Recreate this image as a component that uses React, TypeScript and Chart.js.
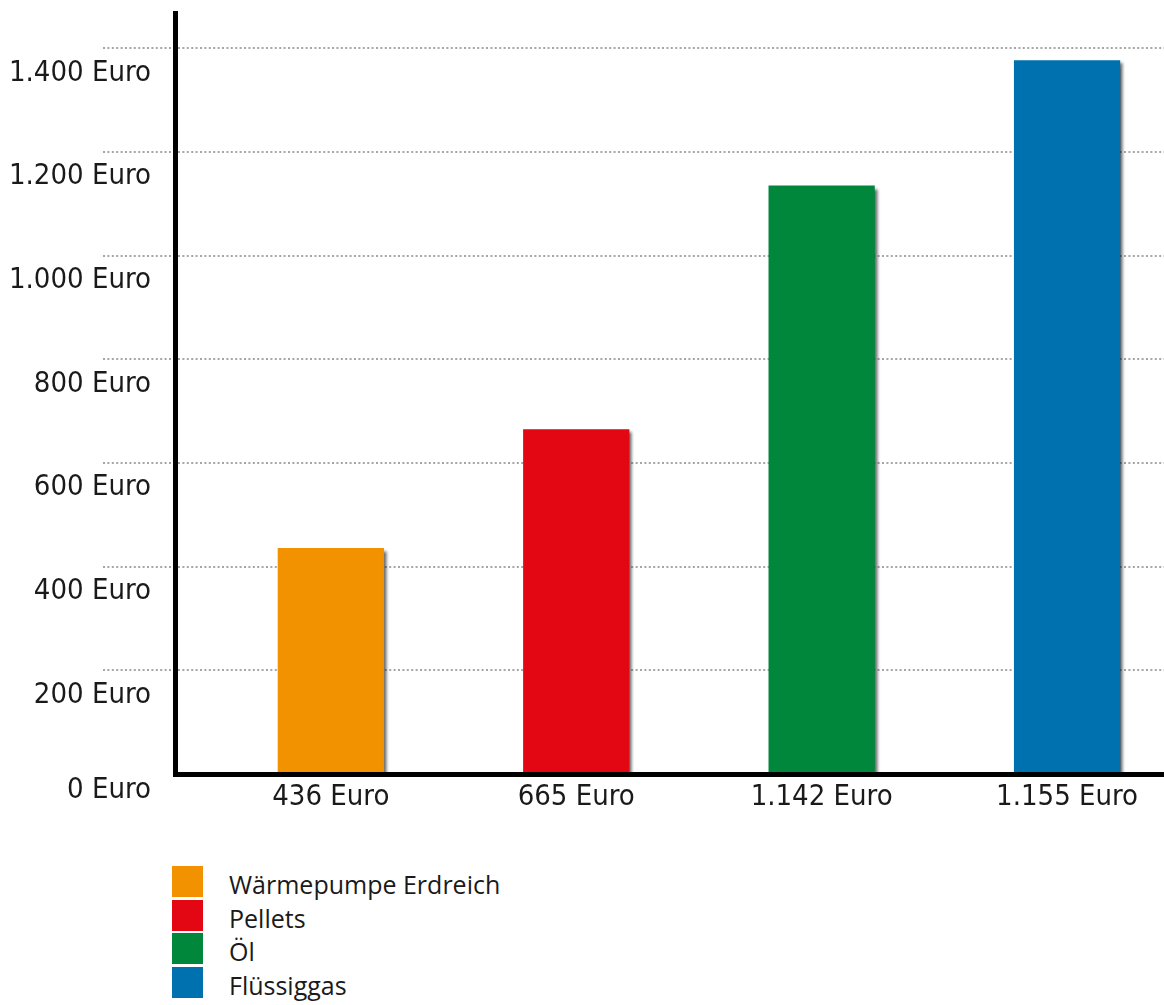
import React, { useEffect, useRef } from "react";
import { Chart, registerables } from "chart.js";

Chart.register(...registerables);

// ---- data ----
const categories = ["436 Euro", "665 Euro", "1.142 Euro", "1.155 Euro"];
const seriesNames = ["Wärmepumpe Erdreich", "Pellets", "Öl", "Flüssiggas"];
const values = [436, 665, 1135, 1377];
const colors = ["#F39200", "#E30613", "#00873C", "#0071AF"];
const yTickValues = [0, 200, 400, 600, 800, 1000, 1200, 1400];
const yTickLabels = [
  "0 Euro",
  "200 Euro",
  "400 Euro",
  "600 Euro",
  "800 Euro",
  "1.000 Euro",
  "1.200 Euro",
  "1.400 Euro",
];
const yMax = 1468;
const xMin = -0.635;
const xMax = 3.395;

const AXIS_FAMILY = '"DejaVu Sans Condensed", "Liberation Sans", sans-serif';
const AXIS_SIZE = 29;
const TEXT_COLOR = "#1a1a1a";
const GRID_COLOR = "#a6a6a6";

const shadowPlugin = {
  id: "barShadow",
  beforeDatasetsDraw(chart: any) {
    const ctx = chart.ctx;
    ctx.save();
    ctx.shadowColor = "rgba(0,0,0,0.6)";
    ctx.shadowOffsetX = 3;
    ctx.shadowOffsetY = 3;
    ctx.shadowBlur = 3;
  },
  afterDatasetsDraw(chart: any) {
    chart.ctx.restore();
  },
};

const yLabelPlugin = {
  id: "yLabels",
  afterDraw(chart: any) {
    const { ctx, chartArea } = chart;
    const y = chart.scales.y;
    ctx.save();
    ctx.font = `${AXIS_SIZE}px ${AXIS_FAMILY}`;
    ctx.fillStyle = TEXT_COLOR;
    ctx.textAlign = "right";
    ctx.textBaseline = "middle";
    yTickValues.forEach((v, i) => {
      const py = Math.min(y.getPixelForValue(v) + 25, chartArea.bottom + 16);
      ctx.fillText(yTickLabels[i], chartArea.left - 24, py);
    });
    ctx.restore();
  },
};

export default function App() {
  const canvasRef = useRef<HTMLCanvasElement | null>(null);

  useEffect(() => {
    if (!canvasRef.current) return;
    const gridColor = (c: any) =>
      c.tick && c.tick.value === 0 ? "rgba(0,0,0,0)" : GRID_COLOR;
    const chart = new Chart(canvasRef.current, {
      type: "bar",
      data: {
        datasets: [
          {
            label: "Kosten",
            data: categories.map((_, i) => ({ x: i, y: values[i] })),
            backgroundColor: colors,
            borderWidth: 0,
            barPercentage: 0.433,
            categoryPercentage: 1,
          },
        ],
      },
      options: {
        responsive: false,
        animation: false,
        devicePixelRatio: 1,
        layout: { padding: { top: 13, left: 0, right: 0, bottom: 0 } },
        plugins: {
          legend: { display: false },
          tooltip: { enabled: false },
        },
        scales: {
          x: {
            type: "linear",
            min: xMin,
            max: xMax,
            bounds: "data",
            offset: false,
            afterBuildTicks: (s: any) => {
              s.ticks = categories.map((_, i) => ({ value: i }));
            },
            afterFit: (s: any) => {
              s.height = 66;
            },
            ticks: {
              callback: (v: any) => categories[v] ?? "",
              font: { family: AXIS_FAMILY, size: AXIS_SIZE },
              color: TEXT_COLOR,
              padding: 6,
              autoSkip: false,
              maxRotation: 0,
            },
            grid: { display: false, drawTicks: false, offset: false },
            border: { display: true, color: "#000", width: 5, z: 1 },
          },
          y: {
            type: "linear",
            min: 0,
            max: yMax,
            bounds: "data",
            afterBuildTicks: (s: any) => {
              s.ticks = yTickValues.map((v) => ({ value: v }));
            },
            afterFit: (s: any) => {
              s.width = 175;
            },
            ticks: { display: false },
            grid: {
              color: gridColor,
              tickColor: gridColor,
              lineWidth: 2,
              tickWidth: 2,
              drawTicks: true,
              tickLength: 72,
              tickBorderDash: [2, 2.4],
            },
            border: {
              display: true,
              color: "#000",
              width: 5,
              dash: [2, 2.4],
            },
          },
        },
      },
      plugins: [shadowPlugin, yLabelPlugin],
    } as any);
    return () => chart.destroy();
  }, []);

  return (
    <div
      style={{
        position: "absolute",
        left: 0,
        top: 0,
        width: 1164,
        height: 1005,
        background: "#fff",
        overflow: "hidden",
      }}
    >
      <canvas
        ref={canvasRef}
        width={1164}
        height={840}
        style={{ display: "block", width: 1164, height: 840 }}
      />
      <div
        style={{
          position: "absolute",
          left: 172,
          top: 866,
          fontFamily: '"Open Sans", "Noto Sans", sans-serif',
          fontSize: 25,
          color: TEXT_COLOR,
        }}
      >
        {seriesNames.map((name, i) => (
          <div
            key={name}
            style={{
              display: "flex",
              alignItems: "center",
              height: 31,
              marginBottom: 2.67,
            }}
          >
            <div
              style={{
                width: 31,
                height: 31,
                background: colors[i],
                flex: "none",
              }}
            />
            <span
              style={{
                marginLeft: 26,
                lineHeight: "31px",
                position: "relative",
                top: 3,
                whiteSpace: "nowrap",
              }}
            >
              {name}
            </span>
          </div>
        ))}
      </div>
    </div>
  );
}
